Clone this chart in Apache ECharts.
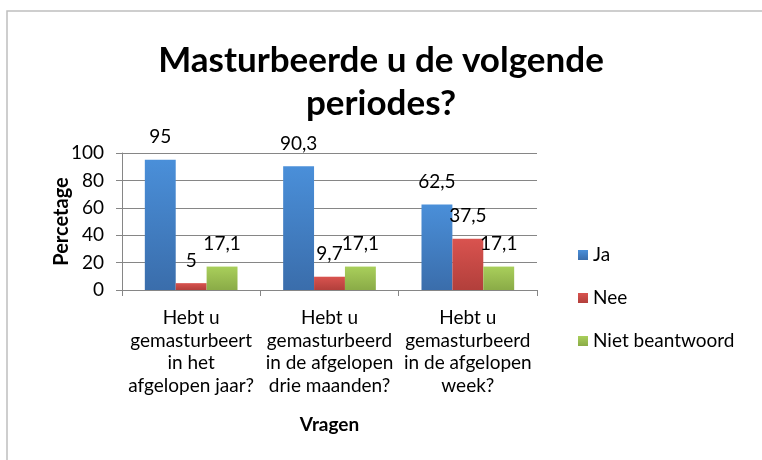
<!DOCTYPE html>
<html>
<head>
<meta charset="utf-8">
<script src="https://cdn.jsdelivr.net/npm/echarts@6/dist/echarts.min.js"></script>
<style>
  html, body { margin: 0; padding: 0; background: #fff; }
  #main { width: 762px; height: 460px; }
</style>
</head>
<body>
<div id="main"></div>
<script>
// data
const categories = [
    'Hebt u\ngemasturbeert\nin het\nafgelopen jaar?',
    'Hebt u\ngemasturbeerd\nin de afgelopen\ndrie maanden?',
    'Hebt u\ngemasturbeerd\nin de afgelopen\nweek?'
];
const ja = [95, 90.3, 62.5];
const nee = [5, 9.7, 37.5];
const nietBeantwoord = [17.1, 17.1, 17.1];
const yTicks = [0, 20, 40, 60, 80, 100];

const font = 'Lato, "Open Sans", sans-serif';

function grad(top, bottom) {
    return new echarts.graphic.LinearGradient(0, 0, 0, 1, [
        { offset: 0, color: top },
        { offset: 1, color: bottom }
    ]);
}

const labelStyle = {
    show: true,
    position: 'top',
    distance: 13,
    color: '#000',
    fontFamily: font,
    fontSize: 19,
    formatter: p => String(p.value).replace('.', ',')
};

var chart = echarts.init(document.getElementById('main'));

var option = {
    animation: false,
    backgroundColor: '#fff',
    title: {
        text: 'Masturbeerde u de volgende\nperiodes?',
        left: 'center',
        top: 34,
        textStyle: {
            fontFamily: font,
            fontWeight: 'bold',
            fontSize: 35,
            lineHeight: 43,
            color: '#000'
        }
    },
    graphic: [{
        type: 'polyline',
        shape: { points: [[7, 460], [7, 11], [762, 11]] },
        style: { stroke: '#bfbfbf', lineWidth: 1.5, fill: null }
    }],
    legend: {
        orient: 'vertical',
        left: 573,
        top: 240,
        itemWidth: 10,
        itemHeight: 10,
        itemGap: 23,
        icon: 'rect',
        textStyle: { fontFamily: font, fontSize: 19, lineHeight: 20, color: '#000' },
        data: ['Ja', 'Nee', 'Niet beantwoord']
    },
    grid: {
        left: 122,
        right: 225,
        top: 153,
        bottom: 170
    },
    xAxis: {
        type: 'category',
        data: categories,
        name: 'Vragen',
        nameLocation: 'middle',
        nameGap: 125,
        nameTextStyle: { fontFamily: font, fontWeight: 'bold', fontSize: 19, color: '#000' },
        axisLine: { lineStyle: { color: '#868686' } },
        axisTick: { show: true, length: 6, lineStyle: { color: '#868686' } },
        axisLabel: {
            fontFamily: font,
            fontSize: 19,
            lineHeight: 22.5,
            color: '#000',
            margin: 17,
            interval: 0
        }
    },
    yAxis: {
        type: 'value',
        min: 0,
        max: 100,
        interval: 20,
        name: 'Percetage',
        nameLocation: 'middle',
        nameGap: 50,
        nameMoveOverlap: false,
        nameTextStyle: { fontFamily: font, fontWeight: 'bold', fontSize: 20, color: '#000' },
        axisLine: { show: true, lineStyle: { color: '#868686' } },
        axisTick: { show: true, length: 6, lineStyle: { color: '#868686' } },
        splitLine: { lineStyle: { color: '#868686' } },
        axisLabel: {
            fontFamily: font,
            fontSize: 19,
            color: '#000',
            margin: 18,
            formatter: v => yTicks.includes(v) ? String(v) : ''
        }
    },
    series: [
        {
            name: 'Ja',
            type: 'bar',
            data: ja,
            barGap: '0%',
            barCategoryGap: '33%',
            itemStyle: { color: grad('#4a8fd9', '#3a6dab') },
            label: labelStyle
        },
        {
            name: 'Nee',
            type: 'bar',
            data: nee,
            itemStyle: { color: grad('#d9534f', '#b23f3b') },
            label: labelStyle
        },
        {
            name: 'Niet beantwoord',
            type: 'bar',
            data: nietBeantwoord,
            itemStyle: { color: grad('#a9cf5b', '#8aab47') },
            label: labelStyle
        }
    ]
};

chart.setOption(option);
</script>
</body>
</html>
